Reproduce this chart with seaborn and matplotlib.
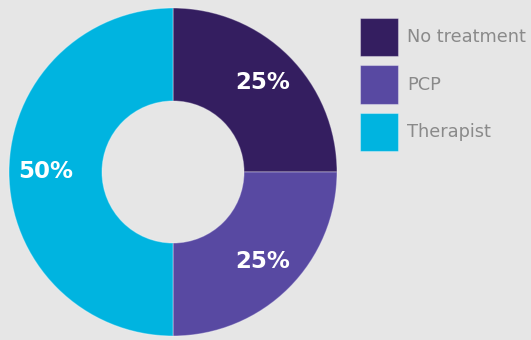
import matplotlib
matplotlib.use("Agg")
import matplotlib.pyplot as plt
import seaborn as sns

categories = ["No treatment", "PCP", "Therapist"]
shares = [25, 25, 50]
colors = ["#341e60", "#5849a2", "#00b4e0"]

sns.set_theme(style="white")
plt.rcParams["font.family"] = ["DejaVu Sans"]

bg = "#e6e6e6"
fig = plt.figure(figsize=(5.31, 3.40), dpi=100, facecolor=bg)
ax = fig.add_axes([9 / 531, 4 / 340, 328 / 531, 328 / 340])
ax.set_facecolor(bg)

wedges, texts, autotexts = ax.pie(
    shares,
    colors=colors,
    startangle=90,
    counterclock=False,
    radius=1.0,
    autopct="%d%%",
    pctdistance=0.775,
    wedgeprops=dict(width=0.567, edgecolor=(1, 1, 1, 0.35), linewidth=0.8),
    textprops=dict(color="white", fontsize=16.5, fontweight="bold"),
)
ax.set_xlim(-1, 1)
ax.set_ylim(-1, 1)
ax.set_aspect("equal")
ax.axis("off")

fig.legend(
    wedges,
    categories,
    loc="upper left",
    bbox_to_anchor=(360 / 531, 1 - 18 / 340),
    frameon=False,
    fontsize=12.8,
    labelcolor="#8a8a8a",
    handlelength=2.15,
    handleheight=2.95,
    handletextpad=0.5,
    labelspacing=0.5,
    borderpad=0,
    borderaxespad=0,
)

fig.savefig("out.png", dpi=100, facecolor=bg)
